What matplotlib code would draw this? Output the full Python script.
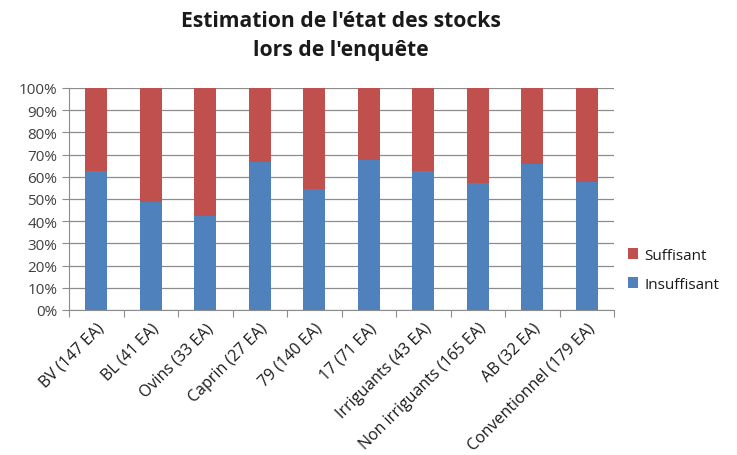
import numpy as np
import matplotlib.pyplot as plt
from matplotlib.ticker import PercentFormatter

categories = ['BV (147 EA)', 'BL (41 EA)', 'Ovins (33 EA)', 'Caprin (27 EA)',
              '79 (140 EA)', '17 (71 EA)', 'Irriguants (43 EA)',
              'Non irriguants (165 EA)', 'AB (32 EA)', 'Conventionnel (179 EA)']
insuffisant = [62.6, 48.8, 42.4, 66.7, 54.3, 67.6, 62.8, 57.0, 65.6, 57.5]
suffisant = [100 - v for v in insuffisant]

plt.rcParams['font.family'] = ['Open Sans', 'DejaVu Sans']

fig = plt.figure(figsize=(7.37, 4.56), dpi=100)
ax = fig.add_axes([69/737, 1 - 311/456, (614 - 69)/737, (311 - 89)/456])

x = np.arange(len(categories))
b1 = ax.bar(x, insuffisant, width=0.4, color='#4f81bd', zorder=3, label='Insuffisant')
b2 = ax.bar(x, suffisant, width=0.4, bottom=insuffisant, color='#c0504d', zorder=3,
            label='Suffisant')

ax.set_xlim(-0.5, len(categories) - 0.5)
ax.set_ylim(0, 100)
ax.set_yticks(np.arange(0, 101, 10))
ax.yaxis.set_major_formatter(PercentFormatter(decimals=0))
ax.grid(axis='y', color='#8c8c8c', linewidth=0.9, zorder=0)

ax.set_xticks(np.arange(-0.5, len(categories), 1), minor=False)
ax.set_xticklabels([])
ax.set_xticks(x, minor=True)
ax.set_xticklabels(categories, minor=True, rotation=45, ha='right',
                   rotation_mode='anchor', fontsize=11.5, color='#1a1a1a')
ax.tick_params(axis='x', which='minor', length=0, pad=7)
ax.tick_params(axis='x', which='major', length=5, color='#8c8c8c', direction='out')
ax.tick_params(axis='y', length=5, color='#8c8c8c', labelsize=11, labelcolor='#404040')

for s in ['top', 'right']:
    ax.spines[s].set_visible(False)
for s in ['left', 'bottom']:
    ax.spines[s].set_color('#8c8c8c')

fig.text(341/737, 1 - 36/456, "Estimation de l'état des stocks\nlors de l'enquête",
         ha='center', va='center', fontsize=15.2, fontweight='bold',
         color='#1a1a1a', linespacing=1.5)

ax.legend(handles=[b2, b1], loc='center left', bbox_to_anchor=(1.0, 0.18),
          frameon=False, fontsize=11, handlelength=0.7, handleheight=0.7,
          labelspacing=0.9, handletextpad=0.4, labelcolor='#1a1a1a')

fig.savefig('out.png', dpi=100)
